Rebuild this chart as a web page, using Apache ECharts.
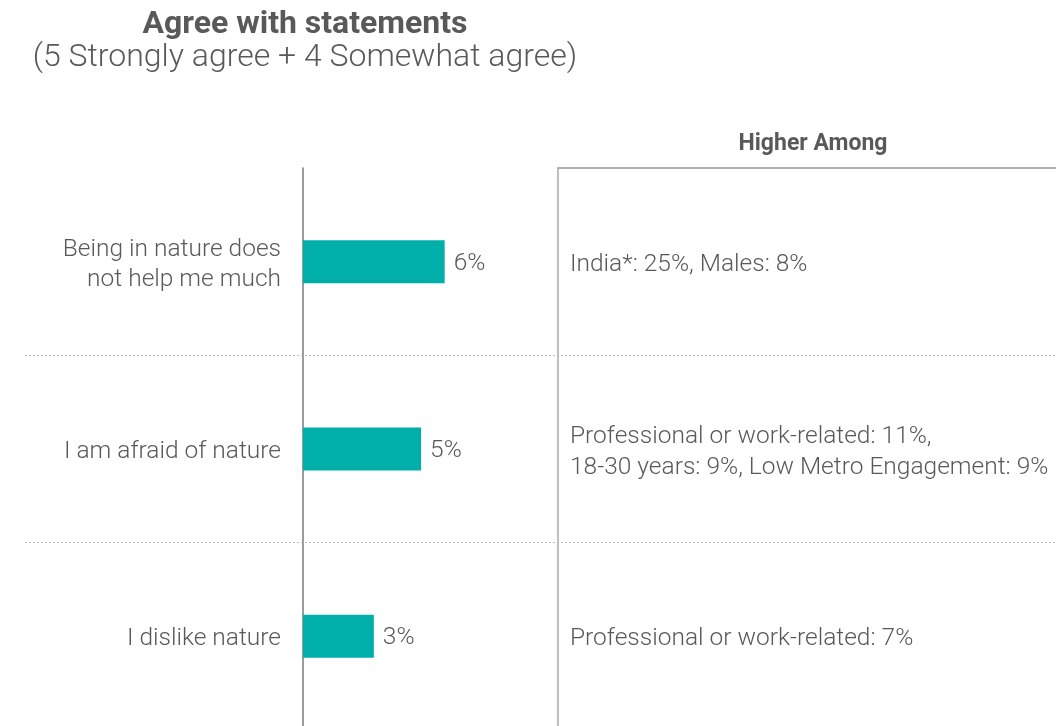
<!DOCTYPE html>
<html>
<head>
<meta charset="utf-8">
<script src="https://cdn.jsdelivr.net/npm/echarts@6/dist/echarts.min.js"></script>
<style>
  html, body { margin: 0; padding: 0; background: #fff; overflow: hidden; }
  /* the plot runs slightly past the lower page edge, as the row bands are cut off there */
  #chart { width: 1056px; height: 730px; }
</style>
</head>
<body>
<div id="chart"></div>
<script>
// Statements shown on the left, top to bottom
const statements = [
  'Being in nature does\nnot help me much',
  'I am afraid of nature',
  'I dislike nature'
];
// Share agreeing (top-2 box), percent
const agreeShare = [6, 5, 3];
// Groups where agreement is higher
const higherAmong = [
  'India*: 25%, Males: 8%',
  'Professional or work-related: 11%,\n18-30 years: 9%, Low Metro Engagement: 9%',
  'Professional or work-related: 7%'
];
// Row boundaries drawn as dotted separators
const rowBreaks = [1, 2];

const FONT = 'Roboto, "Open Sans", sans-serif';
const TEXT = '#595959';
const ROWS_TOP = 168;

// wrap each line in a rich token so the text sits a little lower in its row
const lowered = v => v.split('\n').map(s => '{t|' + s + '}').join('\n');
const loweredStyle = lh => ({
  t: {
    fontFamily: FONT, fontSize: 24.5, fontWeight: 300, color: TEXT,
    lineHeight: lh, padding: [6, 0, 0, 0]
  }
});

const chart = echarts.init(document.getElementById('chart'), null, { renderer: 'canvas' });

chart.setOption({
  animation: false,
  title: {
    text: 'Agree with statements',
    subtext: '(5 Strongly agree + 4 Somewhat agree)',
    left: 300,
    top: 4,
    textAlign: 'center',
    itemGap: 1,
    textStyle: { fontFamily: FONT, fontSize: 32, lineHeight: 32, fontWeight: 'bold', color: TEXT },
    subtextStyle: { fontFamily: FONT, fontSize: 32, lineHeight: 32, fontWeight: 300, color: TEXT }
  },
  graphic: [{
    type: 'text',
    x: 813,
    y: 144,
    style: {
      text: 'Higher Among',
      align: 'center',
      verticalAlign: 'middle',
      font: 'bold 23px ' + FONT,
      fill: TEXT
    }
  }],
  grid: [
    { left: 303, top: ROWS_TOP, width: 255, bottom: 0 },
    { left: 558, top: ROWS_TOP, right: 0, bottom: 0 },
    { left: 25, top: ROWS_TOP, right: 0, bottom: 0 }
  ],
  xAxis: [
    { gridIndex: 0, type: 'value', min: 0, max: 10.8, show: false },
    {
      gridIndex: 1, type: 'value', min: 0, max: 1, position: 'top',
      axisLine: { show: true, lineStyle: { color: '#b0b0b0', width: 2 } },
      axisTick: { show: false }, axisLabel: { show: false }, splitLine: { show: false }
    },
    { gridIndex: 2, type: 'value', min: 0, max: 1, show: false }
  ],
  yAxis: [
    {
      gridIndex: 0, type: 'category', inverse: true, data: statements,
      axisLine: { show: true, lineStyle: { color: '#7a7a7a', width: 1.5 } },
      axisTick: { show: false },
      axisLabel: {
        margin: 22, align: 'right',
        formatter: lowered, rich: loweredStyle(30)
      },
      splitLine: { show: false }
    },
    {
      gridIndex: 1, type: 'category', inverse: true, data: higherAmong,
      axisLine: { show: true, lineStyle: { color: '#aaa', width: 1.5 } },
      axisTick: { show: false },
      axisLabel: {
        inside: true, margin: 12, align: 'left',
        formatter: lowered, rich: loweredStyle(31)
      },
      splitLine: { show: false }
    },
    { gridIndex: 2, type: 'value', min: 0, max: 3, inverse: true, show: false }
  ],
  series: [
    {
      type: 'bar',
      xAxisIndex: 0, yAxisIndex: 0,
      data: agreeShare,
      barWidth: 43,
      itemStyle: { color: '#00AFAA' },
      label: {
        show: true, position: 'right', distance: 9, offset: [0, 2],
        formatter: '{c}%', fontFamily: FONT, fontSize: 24.5, fontWeight: 300, color: TEXT
      },
      silent: true
    },
    {
      type: 'line',
      xAxisIndex: 2, yAxisIndex: 2,
      data: [],
      silent: true,
      markLine: {
        silent: true,
        symbol: ['none', 'none'],
        label: { show: false },
        lineStyle: { color: '#bbb', width: 1, type: [2, 2] },
        data: rowBreaks.map(v => ({ yAxis: v }))
      }
    }
  ]
});
</script>
</body>
</html>
